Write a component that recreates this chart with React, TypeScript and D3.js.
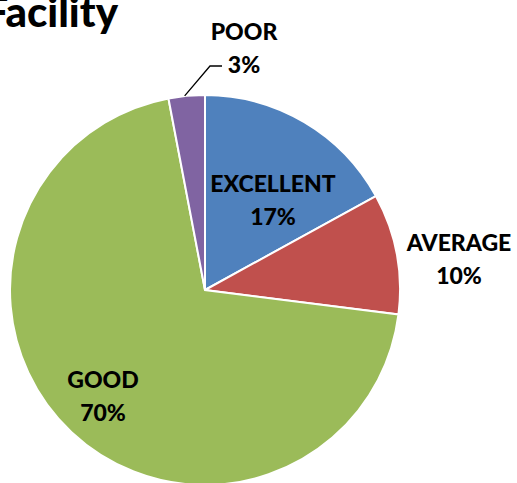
import React from "react";
import * as d3 from "d3";

const categories = ["EXCELLENT", "AVERAGE", "GOOD", "POOR"];
const values = [17, 10, 70, 3];
const colors = ["#4F81BD", "#C0504D", "#9BBB59", "#8064A2"];
const labelPos: [number, number][] = [
  [273, 184],
  [459, 243],
  [103, 380],
  [244, 32],
];

export default function App() {
  const W = 517, H = 483;
  const cx = 205, cy = 290, r = 195;
  const pie = d3.pie<number>().sort(null).value((d) => d)(values);
  const arc = d3.arc<d3.PieArcDatum<number>>().innerRadius(0).outerRadius(r);
  const font = "Lato, Carlito, Calibri, sans-serif";
  const poor = pie[3];
  const mid = (poor.startAngle + poor.endAngle) / 2;
  const px = cx + Math.sin(mid) * r;
  const py = cy - Math.cos(mid) * r;
  return (
    <svg width={W} height={H} style={{ position: "absolute", left: 0, top: 0 }}>
      <rect width={W} height={H} fill="#fff" />
      <text x={118} y={27} textAnchor="end" fontFamily={font} fontWeight="900" fontSize={42} fill="#000">
        Facility
      </text>
      <g transform={`translate(${cx},${cy})`}>
        {pie.map((p, i) => (
          <path key={i} d={arc(p) as string} fill={colors[i]} stroke="#fff" strokeWidth={2} />
        ))}
      </g>
      <polyline
        points={`${px - 2},${py} ${210},${66} ${222},${66}`}
        fill="none"
        stroke="#000"
        strokeWidth={1.3}
      />
      {categories.map((c, i) => (
        <text key={c} x={labelPos[i][0]} y={labelPos[i][1]} textAnchor="middle" fontFamily={font} fontWeight="900" fontSize={23} fill="#000">
          <tspan x={labelPos[i][0]} dy="0.35em">{c}</tspan>
          <tspan x={labelPos[i][0]} dy="1.43em">{values[i]}%</tspan>
        </text>
      ))}
    </svg>
  );
}
